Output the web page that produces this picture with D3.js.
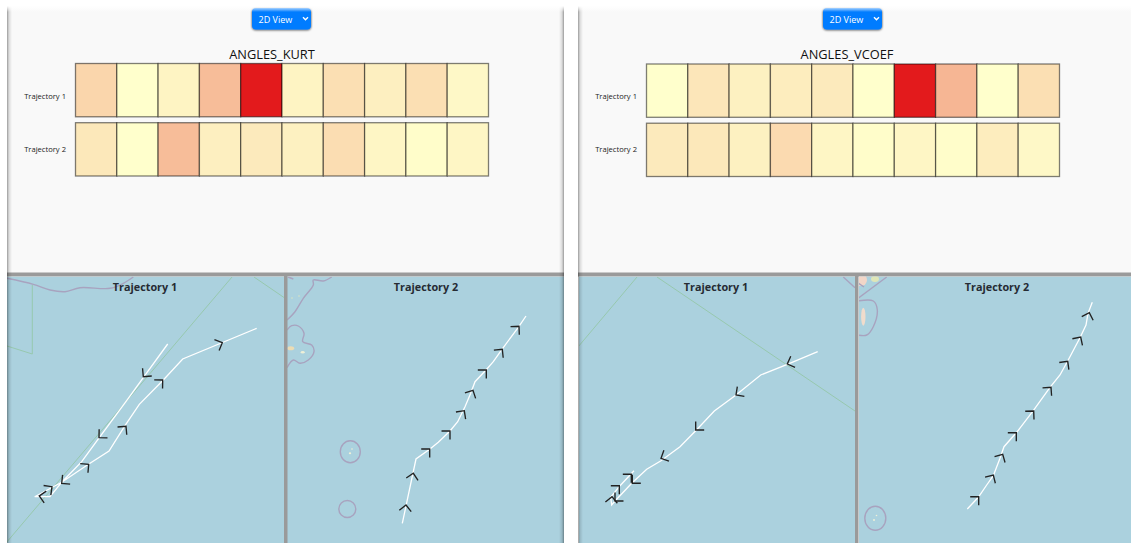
<!DOCTYPE html>
<html>
<head>
<meta charset="utf-8">
<script src="https://cdn.jsdelivr.net/npm/d3@7"></script>
<style>
  html, body { margin: 0; padding: 0; background: #fff; overflow: hidden; }
  svg { display: block; }
</style>
</head>
<body>
<div id="chart"></div>
<script>
const rowNames = ['Trajectory 1', 'Trajectory 2'];
const binIndex = d3.range(10);

// heat values (0 = pale yellow, 1 = red)
const kurtRow1 = [0.18, 0, 0.05, 0.29, 1, 0.05, 0.14, 0.07, 0.14, 0.03];
const kurtRow2 = [0.10, 0, 0.29, 0.07, 0.09, 0.06, 0.15, 0.04, 0.01, 0.04];
const vcoefRow1 = [0, 0.11, 0.06, 0.08, 0.09, 0, 1, 0.32, 0, 0.14];
const vcoefRow2 = [0.09, 0.10, 0.06, 0.16, 0.04, 0.01, 0.04, 0.01, 0.08, 0.03];

// tracks in map units, [x, y]
const kurtTrack1 = [[249.7,51.3],[175.7,82],[156.3,103],[132.3,127.3],[118,148.7],[102,174],[80.3,188],[54.7,205.3],[27.7,219.7],[43,219.7],[54.7,205.3],[74.7,184.7],[93,159.7],[121.3,121.3],[137,99.7],[160.7,67]];
const kurtTrack2 = [[115.3,246.3],[129,182],[143,172],[151.3,165.3],[163,154],[170.7,144.7],[178,129.7],[183.7,116.3],[188,104.7],[199,93],[206.3,84.7],[215.7,71.3],[231.3,50.3],[239,39]];
const vcoefTrack1 = [[238.7,74.7],[208.3,87.3],[181.7,98],[157,118],[135.3,134],[116.7,153.7],[101,169.7],[82,183.7],[67.7,192.3],[52.7,206.3],[36,224],[32.7,228],[31.7,220.3],[41,208.7],[55,193.7]];
const vcoefTrack2 = [[108.3,232],[119.3,220.3],[127.7,208],[134.3,198.7],[141,181.3],[145,169.7],[157.7,155.3],[174.3,133.7],[191,110.3],[201,98],[208.3,84.7],[221,60.7],[227,48],[229,36.3],[233.3,25.3]];

// direction arrows, [x, y, heading in degrees]
const kurtArrows1 = [[215.3,65.7,-23],[155.7,103,-44],[119,149.3,-50],[81.7,187.3,-40],[45,209.7,-37],[32.3,219,190],[54.7,206.3,141],[92,160.7,136],[136.3,99.7,130]];
const kurtArrows2 = [[119,228,-83],[126.3,196.3,-79],[142.7,172,-45],[163,154,-45],[177.3,133.7,-54],[186,113.3,-63],[199.3,93,-45],[215.3,72.3,-51],[232,49.3,-47]];
const vcoefArrows1 = [[208.3,87,159],[157,118,144],[116.7,153,135],[82,181.3,155],[53.3,206.3,135],[36,224,135],[52.3,197.3,-45],[40.3,208.7,-45],[33,219.7,-84]];
const vcoefArrows2 = [[119.7,219.7,-45],[134.3,198,-59],[143.7,177.3,-61],[157.3,155.7,-45],[174.7,134,-47],[192,110.3,-49],[208.7,84.3,-53],[221.7,60,-57],[230.3,35.7,-72]];

// base map outlines in the same map units
const zoneLines1 = [[[-1,266],[225,0]],[[247,0],[277,20.5]],[[0,69],[25.3,77],[25.3,8]]];
const borderLines1 = [[[0,1.3],[26.3,7.3],[43,13],[58,14.7],[73,10.7],[103,11.3],[116.3,6.3],[126.3,0]]];
const borderLines2 = [
  [[0,43],[8,34.7],[16.3,21.3],[26.3,8],[26.3,3],[36.3,4],[44.7,0]],
  [[0,53],[4.7,48.7],[11.3,49],[17,56.3],[15.7,64.7],[24.7,68],[27,74.7],[21.3,83],[13,86.3],[6.3,83],[0,90.7]],
  [[1,0],[6.3,2]]
];
const rings2 = [[63.3,174.7,10,11],[60.3,232,8.5,8.5]];
const land2 = [[3.7,71.3,3.5,2,'#ecdcb4'],[15.7,75.3,2,1.3,'#eef0d8'],[63,176.3,1.2,1,'#eef0d8'],[65,172,0.8,0.8,'#eef0d8'],[12,19,0.8,0.8,'#d8e4c4'],[5,21,0.8,0.8,'#d8e4c4']];
const zoneLines3 = [[[-1,70],[58,0]],[[78,0],[276,134]]];
const borderLines3 = [[[264.3,0],[276,10.7]]];
const borderLines4 = [
  [[-1,21.3],[27.7,0]],
  [[-1,24],[14.3,24],[18.3,33],[14.3,49.7],[7.7,58],[-1,58]],
  [[-1,6],[5,10]]
];
const rings4 = [[16.3,241.3,10.5,12]];
const land4 = [[4.3,39.7,2.2,9,'#f0dccc'],[2,3,6,6,'#f2d6c8'],[16,2,4,3,'#dfe6b8'],[17.5,238.5,0.8,0.8,'#eef0d8'],[15,243,1,1,'#eef0d8']];

const width = 1131;
const height = 543;

const svg = d3.select('#chart').append('svg')
  .attr('width', width)
  .attr('height', height)
  .attr('viewBox', `0 0 ${width} ${height}`);

const defs = svg.append('defs');
const btn = defs.append('filter').attr('id', 'button-shadow')
  .attr('x', '-10%').attr('y', '-20%').attr('width', '120%').attr('height', '150%');
btn.append('feDropShadow').attr('dx', 0).attr('dy', 0.5).attr('stdDeviation', 1.2)
  .attr('flood-color', '#000').attr('flood-opacity', 0.8);

// inner edge shadow of the panels
function edgeGradient(id, x1, x2, y1, y2) {
  const grad = defs.append('linearGradient').attr('id', id)
    .attr('x1', x1).attr('x2', x2).attr('y1', y1).attr('y2', y2);
  grad.append('stop').attr('offset', 0).attr('stop-color', '#000').attr('stop-opacity', 0.38);
  grad.append('stop').attr('offset', 0.4).attr('stop-color', '#000').attr('stop-opacity', 0.12);
  grad.append('stop').attr('offset', 1).attr('stop-color', '#000').attr('stop-opacity', 0);
}
edgeGradient('edge-left', 0, 1, 0, 0);
edgeGradient('edge-right', 1, 0, 0, 0);

const fadeTop = defs.append('linearGradient').attr('id', 'fade-top')
  .attr('x1', 0).attr('x2', 0).attr('y1', 0).attr('y2', 1);
fadeTop.append('stop').attr('offset', 0).attr('stop-color', '#fff');
fadeTop.append('stop').attr('offset', 1).attr('stop-color', '#fff').attr('stop-opacity', 0);

const heatColor = d3.scaleLinear().domain([0, 1]).range(['#ffffcc', '#e31a1c']);
const font = '"Open Sans", "Noto Sans", sans-serif';

function drawPanel(opts) {
  const g = svg.append('g');

  g.append('rect')
    .attr('x', opts.left).attr('y', 6)
    .attr('width', opts.right - opts.left).attr('height', height - 6)
    .attr('fill', '#f9f9f9');

  // view dropdown
  const button = g.append('g');
  button.append('rect')
    .attr('x', opts.buttonX).attr('y', 8).attr('width', 59).attr('height', 21.5).attr('rx', 4)
    .attr('fill', '#007bff')
    .attr('filter', 'url(#button-shadow)');
  button.append('text')
    .attr('x', opts.buttonX + 6.5).attr('y', 22.5)
    .attr('font-family', font).attr('font-size', 9).attr('fill', '#fff')
    .text('2D View');
  button.append('path')
    .attr('d', `M${opts.buttonX + 51},17.3l2.5,2.5l2.5,-2.5`)
    .attr('fill', 'none').attr('stroke', '#fff').attr('stroke-width', 1.4);

  g.append('text')
    .attr('x', opts.titleX).attr('y', 59)
    .attr('text-anchor', 'middle')
    .attr('font-family', font).attr('font-size', 12.8).attr('fill', '#111')
    .text(opts.title);

  const x = d3.scaleBand().domain(binIndex).range([opts.heatLeft, opts.heatRight]);
  const y = d3.scaleBand().domain(rowNames).range([opts.heatTop, opts.heatTop + 112.5]).paddingInner(0.1);

  opts.rows.forEach((row, r) => {
    g.append('text')
      .attr('x', opts.heatLeft - 9.5).attr('y', opts.labelY[r])
      .attr('text-anchor', 'end')
      .attr('font-family', font).attr('font-size', 7.6).attr('fill', '#222')
      .text(rowNames[r]);

    g.selectAll(null)
      .data(row)
      .join('rect')
      .attr('x', (d, i) => x(i))
      .attr('y', y(rowNames[r]))
      .attr('width', x.bandwidth())
      .attr('height', y.bandwidth())
      .attr('fill', d => heatColor(d))
      .attr('stroke', '#000')
      .attr('stroke-opacity', 0.5)
      .attr('stroke-width', 1.3);
  });

  // divider between heatmap and maps
  g.append('rect')
    .attr('x', opts.left).attr('y', 272.5)
    .attr('width', opts.right - opts.left).attr('height', 4)
    .attr('fill', '#9a9a9a');

  opts.maps.forEach(m => drawMap(g, m));

  g.append('rect')
    .attr('x', opts.mapSplit).attr('y', 276)
    .attr('width', 3.5).attr('height', height - 276)
    .attr('fill', '#9a9a9a');

  g.append('rect')
    .attr('x', opts.left).attr('y', 6).attr('width', 5).attr('height', height - 6)
    .attr('fill', 'url(#edge-left)');
  if (opts.right < width) {
    g.append('rect')
      .attr('x', opts.right - 5).attr('y', 6).attr('width', 5).attr('height', height - 6)
      .attr('fill', 'url(#edge-right)');
  }
  g.append('rect')
    .attr('x', opts.left).attr('y', 6).attr('width', opts.right - opts.left).attr('height', 6)
    .attr('fill', 'url(#fade-top)');
}

function drawMap(parent, m) {
  const clipId = `clip-${m.id}`;
  defs.append('clipPath').attr('id', clipId)
    .append('rect').attr('x', m.x).attr('y', 276.5).attr('width', m.w).attr('height', height - 276.5);

  const g = parent.append('g').attr('clip-path', `url(#${clipId})`);
  g.append('rect')
    .attr('x', m.x).attr('y', 276.5).attr('width', m.w).attr('height', height - 276.5)
    .attr('fill', '#abd1de');

  const sx = d3.scaleLinear().domain([0, m.w]).range([m.x, m.x + m.w]);
  const sy = d3.scaleLinear().domain([0, 266]).range([277, 543]);
  const line = d3.line().x(d => sx(d[0])).y(d => sy(d[1]));
  const smooth = d3.line().x(d => sx(d[0])).y(d => sy(d[1])).curve(d3.curveCatmullRom);

  g.selectAll(null).data(m.zones || []).join('path')
    .attr('d', line).attr('fill', 'none').attr('stroke', '#97c8ae').attr('stroke-width', 1);
  g.selectAll(null).data(m.land || []).join('ellipse')
    .attr('cx', d => sx(d[0])).attr('cy', d => sy(d[1]))
    .attr('rx', d => d[2]).attr('ry', d => d[3]).attr('fill', d => d[4]);
  g.selectAll(null).data(m.borders || []).join('path')
    .attr('d', smooth).attr('fill', 'none').attr('stroke', '#a8a3bf').attr('stroke-width', 1.4);
  g.selectAll(null).data(m.rings || []).join('ellipse')
    .attr('cx', d => sx(d[0])).attr('cy', d => sy(d[1]))
    .attr('rx', d => d[2]).attr('ry', d => d[3])
    .attr('fill', 'none').attr('stroke', '#a8a3bf').attr('stroke-width', 1.4);

  g.append('path').datum(m.track)
    .attr('d', line).attr('fill', 'none').attr('stroke', '#fff').attr('stroke-width', 1.3);

  // chevrons, tip on the track
  g.selectAll(null).data(m.arrows).join('path')
    .attr('transform', d => `translate(${sx(d[0])},${sy(d[1])}) rotate(${d[2]})`)
    .attr('d', 'M-6,-6L0,0L-6,6')
    .attr('fill', 'none').attr('stroke', '#222').attr('stroke-width', 1.35);

  g.append('text')
    .attr('x', m.labelX).attr('y', 291)
    .attr('text-anchor', 'middle')
    .attr('font-family', font).attr('font-size', 10.8).attr('font-weight', 700).attr('fill', '#262b33')
    .text(m.label);
}

drawPanel({
  left: 7, right: 564, buttonX: 252, title: 'ANGLES_KURT', titleX: 272,
  heatLeft: 75.5, heatRight: 488.5, heatTop: 63.5, labelY: [98.5, 151.5],
  rows: [kurtRow1, kurtRow2], mapSplit: 284,
  maps: [
    { id: 'a', x: 7, w: 277, labelX: 145, label: rowNames[0], track: kurtTrack1, arrows: kurtArrows1, zones: zoneLines1, borders: borderLines1 },
    { id: 'b', x: 287, w: 277, labelX: 426, label: rowNames[1], track: kurtTrack2, arrows: kurtArrows2, borders: borderLines2, rings: rings2, land: land2 }
  ]
});

drawPanel({
  left: 578, right: 1131, buttonX: 823, title: 'ANGLES_VCOEF', titleX: 847,
  heatLeft: 646.5, heatRight: 1059.5, heatTop: 64, labelY: [98.5, 152],
  rows: [vcoefRow1, vcoefRow2], mapSplit: 855,
  maps: [
    { id: 'c', x: 579, w: 276, labelX: 716, label: rowNames[0], track: vcoefTrack1, arrows: vcoefArrows1, zones: zoneLines3, borders: borderLines3 },
    { id: 'd', x: 859, w: 272, labelX: 997, label: rowNames[1], track: vcoefTrack2, arrows: vcoefArrows2, borders: borderLines4, rings: rings4, land: land4 }
  ]
});
</script>
</body>
</html>
